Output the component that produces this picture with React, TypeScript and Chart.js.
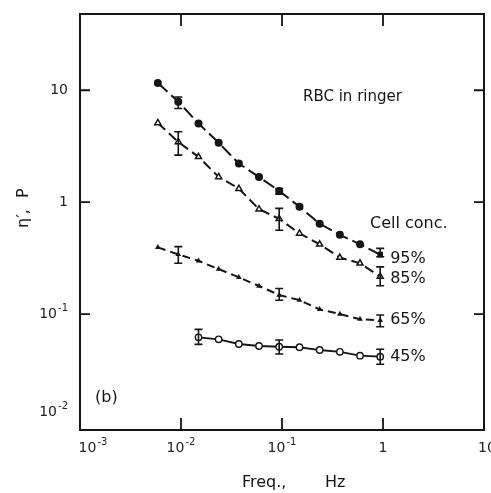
import React, { useEffect, useRef } from "react";
import { Chart, registerables } from "chart.js";
Chart.register(...registerables);

// ---- data ----
const freq = [0.0059, 0.0094, 0.0149, 0.0236, 0.0374, 0.0592, 0.0938, 0.149, 0.236, 0.374, 0.592, 0.938];
const eta95 = [11.6, 7.9, 5.05, 3.39, 2.21, 1.68, 1.26, 0.91, 0.64, 0.51, 0.42, 0.34];
const eta85 = [5.1, 3.45, 2.54, 1.68, 1.32, 0.866, 0.71, 0.525, 0.42, 0.32, 0.284, 0.216];
const eta65 = [0.394, 0.341, 0.299, 0.252, 0.213, 0.178, 0.148, 0.133, 0.11, 0.1, 0.09, 0.088];
const freq45 = [0.0149, 0.0236, 0.0374, 0.0592, 0.0938, 0.149, 0.236, 0.374, 0.592, 0.938];
const eta45 = [0.0619, 0.0594, 0.054, 0.0518, 0.051, 0.0505, 0.0477, 0.046, 0.0425, 0.0416];

// error bars: point index, low, high
const err95Idx = [1, 6, 11];
const err95Lo = [6.87, 1.18, 0.325];
const err95Hi = [8.7, 1.32, 0.386];
const err85Idx = [1, 6, 11];
const err85Lo = [2.63, 0.56, 0.179];
const err85Hi = [4.25, 0.88, 0.264];
const err65Idx = [1, 6, 11];
const err65Lo = [0.284, 0.133, 0.077];
const err65Hi = [0.4, 0.169, 0.098];
const err45Idx = [0, 4, 9];
const err45Lo = [0.0536, 0.044, 0.0356];
const err45Hi = [0.073, 0.0586, 0.0484];

const seriesLabels = ["95%", "85%", "65%", "45%"];
const xTickVals = [0.001, 0.01, 0.1, 1, 10];
const xTickBase = ["10", "10", "10", "1", "10"];
const xTickExp = ["-3", "-2", "-1", "", ""];
const yTickVals = [10, 1, 0.1, 0.01];
const yTickBase = ["10", "1", "10", "10"];
const yTickExp = ["", "", "-1", "-2"];

const INK = "#151515";
const FONT = "'DejaVu Sans', sans-serif";

const pts = (xs: number[], ys: number[]) => xs.map((x, i) => ({ x, y: ys[i] }));

const errSets = [
  { data: pts(freq, eta95), idx: err95Idx, lo: err95Lo, hi: err95Hi },
  { data: pts(freq, eta85), idx: err85Idx, lo: err85Lo, hi: err85Hi },
  { data: pts(freq, eta65), idx: err65Idx, lo: err65Lo, hi: err65Hi },
  { data: pts(freq45, eta45), idx: err45Idx, lo: err45Lo, hi: err45Hi },
];

function drawSup(ctx: CanvasRenderingContext2D, base: string, exp: string, cx: number, cy: number, align: "center" | "right") {
  ctx.font = `14px ${FONT}`;
  const bw = ctx.measureText(base).width;
  ctx.font = `10px ${FONT}`;
  const ew = exp ? ctx.measureText(exp).width + 1 : 0;
  const total = bw + ew;
  const left = align === "center" ? cx - total / 2 : cx - total;
  ctx.textAlign = "left";
  ctx.textBaseline = "middle";
  ctx.font = `14px ${FONT}`;
  ctx.fillText(base, left, cy);
  if (exp) {
    ctx.font = `10px ${FONT}`;
    ctx.fillText(exp, left + bw + 1, cy - 6);
  }
}

const overlay = {
  id: "overlay",
  afterDatasetsDraw(chart: any) {
    const { ctx, chartArea: a, scales } = chart;
    const x = scales.x;
    const y = scales.y;
    ctx.save();
    ctx.strokeStyle = INK;
    ctx.fillStyle = INK;

    // error bars
    ctx.lineWidth = 1.6;
    errSets.forEach((s) => {
      s.idx.forEach((pi, k) => {
        const px = x.getPixelForValue(s.data[pi].x);
        const y1 = y.getPixelForValue(s.lo[k]);
        const y2 = y.getPixelForValue(s.hi[k]);
        ctx.beginPath();
        ctx.moveTo(px, y1);
        ctx.lineTo(px, y2);
        ctx.moveTo(px - 4, y1);
        ctx.lineTo(px + 4, y1);
        ctx.moveTo(px - 4, y2);
        ctx.lineTo(px + 4, y2);
        ctx.stroke();
      });
    });

    // frame
    ctx.lineWidth = 2;
    ctx.strokeRect(a.left, a.top, a.right - a.left, a.bottom - a.top);

    // inward ticks
    ctx.lineWidth = 1.8;
    xTickVals.forEach((v) => {
      const px = x.getPixelForValue(v);
      if (px <= a.left + 2 || px >= a.right - 2) return;
      ctx.beginPath();
      ctx.moveTo(px, a.bottom);
      ctx.lineTo(px, a.bottom - 12);
      ctx.moveTo(px, a.top);
      ctx.lineTo(px, a.top + 12);
      ctx.stroke();
    });
    yTickVals.forEach((v) => {
      const py = y.getPixelForValue(v);
      if (py <= a.top + 2 || py >= a.bottom - 6) return;
      ctx.beginPath();
      ctx.moveTo(a.left, py);
      ctx.lineTo(a.left + 10, py);
      ctx.moveTo(a.right, py);
      ctx.lineTo(a.right - 10, py);
      ctx.stroke();
    });

    // tick labels
    ctx.fillStyle = "#222";
    xTickVals.forEach((v, i) => {
      let px = x.getPixelForValue(v);
      if (i === 0) px += 13;
      if (i === xTickVals.length - 1) px += 3;
      drawSup(ctx, xTickBase[i], xTickExp[i], px, a.bottom + 18, "center");
    });
    yTickVals.forEach((v, i) => {
      const py = Math.min(y.getPixelForValue(v), a.bottom - 18);
      drawSup(ctx, yTickBase[i], yTickExp[i], a.left - 12, py, "right");
    });

    // axis titles
    ctx.fillStyle = INK;
    ctx.font = `16px ${FONT}`;
    ctx.textBaseline = "alphabetic";
    ctx.textAlign = "left";
    ctx.fillText("Freq.,", 242, 487);
    ctx.fillText("Hz", 325, 487);
    ctx.save();
    ctx.translate(28, 228);
    ctx.rotate(-Math.PI / 2);
    ctx.fillText("η′,", 0, 0);
    ctx.fillText("P", 30, 0);
    ctx.restore();

    // annotations
    ctx.font = `15px ${FONT}`;
    ctx.textBaseline = "middle";
    ctx.fillText("RBC in ringer", 303, 97);
    ctx.font = `16px ${FONT}`;
    ctx.fillText("Cell conc.", 370, 224);
    ctx.fillText("(b)", 95, 398);
    const dys = [4, 2, 0, 0];
    errSets.forEach((s, i) => {
      const last = s.data[s.data.length - 1];
      const px = x.getPixelForValue(last.x);
      const py = y.getPixelForValue(last.y);
      ctx.fillText(seriesLabels[i], px + 10, py + dys[i]);
    });
    ctx.restore();
  },
};

export default function App() {
  const ref = useRef<HTMLCanvasElement | null>(null);
  useEffect(() => {
    if (!ref.current) return;
    const chart = new Chart(ref.current, {
      type: "line",
      data: {
        datasets: [
          {
            label: seriesLabels[0],
            data: pts(freq, eta95),
            borderColor: INK,
            backgroundColor: INK,
            borderWidth: 2,
            borderDash: [13, 5],
            pointStyle: freq.map((_, i) => (i === freq.length - 1 ? "rect" : "circle")) as any,
            pointRadius: 4,
            pointBorderWidth: 0,
            tension: 0,
          },
          {
            label: seriesLabels[1],
            data: pts(freq, eta85),
            borderColor: INK,
            backgroundColor: "#fff",
            pointBorderColor: INK,
            borderWidth: 2,
            borderDash: [10, 5],
            pointStyle: "triangle",
            pointRadius: 3.5,
            pointBorderWidth: 1.5,
            tension: 0,
          },
          {
            label: seriesLabels[2],
            data: pts(freq, eta65),
            borderColor: INK,
            backgroundColor: INK,
            borderWidth: 2,
            borderDash: [8, 5],
            pointStyle: "triangle",
            pointRadius: 3.3,
            pointBorderWidth: 0,
            tension: 0,
          },
          {
            label: seriesLabels[3],
            data: pts(freq45, eta45),
            borderColor: INK,
            backgroundColor: "#fff",
            pointBorderColor: INK,
            borderWidth: 1.8,
            pointStyle: "circle",
            pointRadius: 3.2,
            pointBorderWidth: 1.4,
            tension: 0,
          },
        ],
      },
      options: {
        animation: false,
        responsive: false,
        layout: { padding: { left: 80, right: 7, top: 14, bottom: 63 } },
        plugins: { legend: { display: false }, tooltip: { enabled: false } },
        scales: {
          x: {
            type: "logarithmic",
            min: 0.001,
            max: 10,
            grid: { display: false, drawTicks: false, tickLength: 0 },
            border: { display: false },
            ticks: { display: false, padding: 0 },
          },
          y: {
            type: "logarithmic",
            min: 0.0092,
            max: 48,
            grid: { display: false, drawTicks: false, tickLength: 0 },
            border: { display: false },
            ticks: { display: false, padding: 0 },
          },
        },
      },
      plugins: [overlay],
    });
    return () => chart.destroy();
  }, []);
  return (
    <div style={{ position: "fixed", left: 0, top: 0, width: 491, height: 493, background: "#fff" }}>
      <canvas ref={ref} width={491} height={493} style={{ display: "block" }} />
    </div>
  );
}
